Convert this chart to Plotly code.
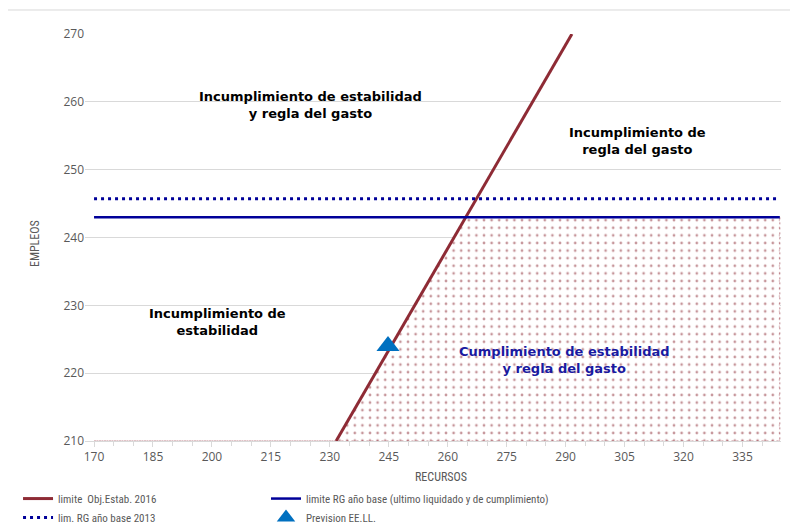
import plotly.graph_objects as go

# data
obj_x = [231.6, 291.6]          # limite Obj.Estab. 2016 (diagonal part)
obj_y = [210, 270]
rg_x = [170, 344.5]             # limite RG año base
rg_y = [243, 243]
rg13_x = [170, 344.5]           # lim. RG año base 2013
rg13_y = [245.7, 245.7]
prev_x = [244.8]                # Prevision EE.LL.
prev_y = [224]
zone_x = [170, 231.6, 264.6, 344.5, 344.5, 170]   # cumplimiento zone
zone_y = [210, 210, 243, 243, 210, 210]

x_ticks = list(range(170, 345, 15))
y_ticks = list(range(210, 271, 10))

RED = "#8E2B35"
NAVY = "#000099"
TRI = "#0070C0"
GREY = "#595959"
TXT_FONT = "DejaVu Sans"
NARROW = "Roboto Condensed, Liberation Sans Narrow, Roboto"

fig = go.Figure()

fig.add_trace(go.Scatter(
    x=zone_x, y=zone_y, mode="lines", fill="toself",
    fillcolor="rgba(255,255,255,0)",
    fillpattern=dict(shape=".", fgcolor="#8E2B35", bgcolor="white", size=7.6, solidity=0.1),
    line=dict(color="rgba(150,50,64,0.6)", width=1, dash="2px,3px"),
    showlegend=False, hoverinfo="skip",
))

fig.add_trace(go.Scatter(
    x=obj_x, y=obj_y, mode="lines", name="limite  Obj.Estab. 2016",
    line=dict(color=RED, width=3), legend="legend",
))
fig.add_trace(go.Scatter(
    x=rg_x, y=rg_y, mode="lines",
    name="limite RG año base (ultimo liquidado y de cumplimiento)",
    line=dict(color=NAVY, width=2.5), legend="legend2",
))
fig.add_trace(go.Scatter(
    x=rg13_x, y=rg13_y, mode="lines", name="lim. RG año base 2013",
    line=dict(color=NAVY, width=3, dash="3px,4px"), legend="legend",
))
fig.add_trace(go.Scatter(
    x=prev_x, y=prev_y, mode="markers", name="Prevision EE.LL.",
    marker=dict(symbol="triangle-up", size=20, color=TRI), legend="legend2",
))

notes = [
    (225.0, 259.6, "Incumplimiento de estabilidad<br>y regla del gasto", "black"),
    (308.3, 254.3, "Incumplimiento de<br>regla del gasto", "black"),
    (201.5, 227.6, "Incumplimiento de<br>estabilidad", "black"),
    (289.8, 222.0, "Cumplimiento de estabilidad<br>y regla del gasto", "#1A1AA0"),
]
for x, y, t, c in notes:
    fig.add_annotation(x=x, y=y, text=f"<b>{t}</b>", showarrow=False,
                       font=dict(family=TXT_FONT, size=13, color=c))

# axis titles
fig.add_annotation(x=0.511, y=-0.088, xref="paper", yref="paper", text="RECURSOS",
                   xanchor="center", yanchor="middle",
                   showarrow=False, font=dict(family=NARROW, size=12, color=GREY))
fig.add_annotation(x=-0.072, y=0.486, xref="paper", yref="paper", text="EMPLEOS",
                   xanchor="center", yanchor="middle",
                   textangle=-90, showarrow=False, font=dict(family=NARROW, size=12, color=GREY))

# outer frame
fig.add_shape(type="rect", xref="paper", yref="paper",
              x0=-0.112, x1=1.022, y0=-0.3, y1=1.059,
              line=dict(color="#d9d9d9", width=1))

legend_style = dict(
    orientation="v", yanchor="top", xanchor="left",
    xref="container", yref="container",
    font=dict(family=NARROW, size=11, color=GREY),
    bgcolor="rgba(0,0,0,0)", itemwidth=30, tracegroupgap=0,
)

# page body adds an 8px offset, so the figure is 8px smaller and margins shifted
fig.update_layout(
    width=790, height=522,
    margin=dict(l=77, r=17, t=26, b=89, autoexpand=False),
    paper_bgcolor="white", plot_bgcolor="white",
    font=dict(family="Open Sans", size=12, color=GREY),
    xaxis=dict(
        range=[167.7, 344.8], tickvals=x_ticks, showgrid=False, automargin=False,
        showline=True, linecolor="#d9d9d9", ticks="outside", tickcolor="#d9d9d9", ticklen=5,
        minor=dict(dtick=5, tick0=170, ticks="outside", ticklen=4, tickcolor="#d9d9d9"),
        zeroline=False, tickfont=dict(size=12, color=GREY),
    ),
    yaxis=dict(
        range=[210, 270], tickvals=y_ticks, showgrid=True, gridcolor="#d9d9d9",
        zeroline=False, showline=False, automargin=False,
        tickfont=dict(size=12, color=GREY),
    ),
    legend=dict(x=0.0127, y=0.088, **legend_style),
    legend2=dict(x=0.3266, y=0.088, **legend_style),
)

fig.write_html("out.html")
